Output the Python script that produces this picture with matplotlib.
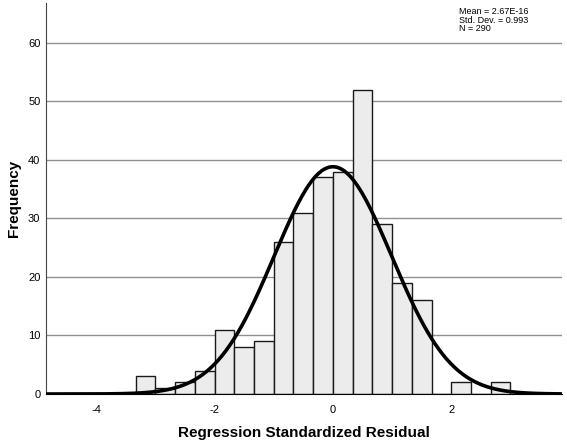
import numpy as np
import matplotlib.pyplot as plt

plt.rcParams['font.family'] = ['Liberation Sans', 'DejaVu Sans']
plt.rcParams['axes.unicode_minus'] = False

# histogram bins (width 1/3) and counts
bin_edges = np.arange(-10, 10) / 3.0  # -3.333 ... 3.0
counts = [3, 1, 2, 4, 11, 8, 9, 26, 31, 37, 38, 52, 29, 19, 16, 0, 2, 0, 2]
mean, sd, n = 2.67e-16, 0.993, 290
bin_w = 1 / 3.0

fig = plt.figure(figsize=(5.67, 4.44), dpi=100)
ax = fig.add_axes([0.081, 0.1126, 0.91, 0.8805])

ax.set_axisbelow(True)
ax.yaxis.grid(True, color='#909090', linewidth=1.0)
ax.bar(bin_edges[:-1], counts, width=bin_w, align='edge',
       color='#ececec', edgecolor='#1a1a1a', linewidth=1.0, zorder=2)

# fitted normal curve
xs = np.linspace(-4.85, 3.87, 400)
ys = n * bin_w * np.exp(-0.5 * ((xs - mean) / sd) ** 2) / (sd * np.sqrt(2 * np.pi))
ax.plot(xs, ys, color='black', linewidth=2.6, zorder=3, solid_capstyle='butt')

ax.set_xlim(-4.85, 3.87)
ax.set_ylim(0, 66.8)
ax.set_xticks([-4, -2, 0, 2])
ax.set_yticks([0, 10, 20, 30, 40, 50, 60])
ax.tick_params(length=0, labelsize=8, pad=8)
ax.tick_params(axis='y', pad=4)

for s in ['top', 'right']:
    ax.spines[s].set_visible(False)
ax.spines['left'].set_color('#444444')
ax.spines['bottom'].set_color('black')

ax.set_xlabel('Regression Standardized Residual', fontsize=11, fontweight='bold', labelpad=8)
ax.set_ylabel('Frequency', fontsize=11, fontweight='bold', labelpad=5)

ax.text(0.80, 0.99, 'Mean = 2.67E-16\nStd. Dev. = 0.993\nN = 290',
        transform=ax.transAxes, fontsize=6.5, va='top', ha='left', linespacing=0.95)

fig.savefig('out.png', dpi=100)
